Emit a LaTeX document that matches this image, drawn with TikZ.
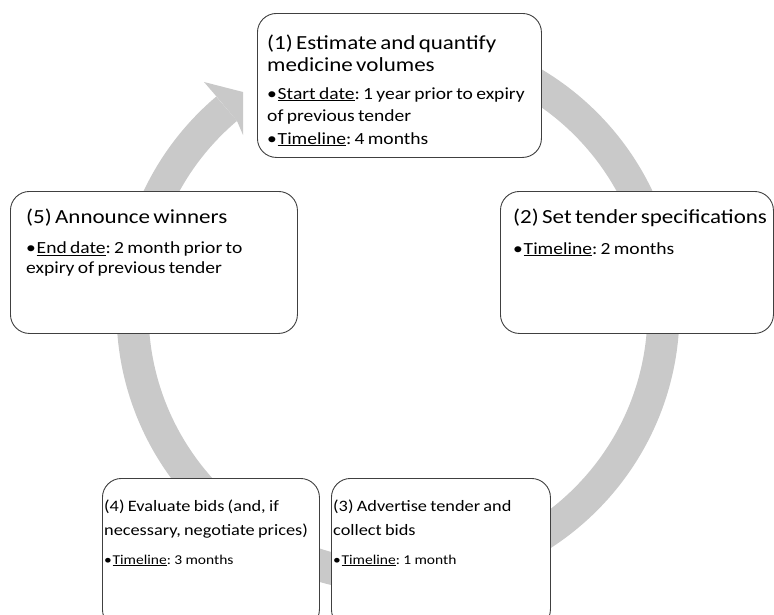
\documentclass[tikz,border=0pt]{standalone}
\usepackage{fontspec}
\setmainfont{Carlito}[FakeStretch=1.15]
\usetikzlibrary{calc,positioning}
\definecolor{ringgray}{RGB}{201,201,201}
\definecolor{boxline}{RGB}{64,64,64}
\tikzset{%
	stepbox/.style  = {draw=boxline, fill=white, line width=0.9pt, rounded corners=19pt, anchor=north west, inner sep=0pt},
	steptext/.style = {anchor=base west, align=left, inner sep=0pt, text width=#1, execute at begin node=\frenchspacing},
	ring/.style     = {draw=ringgray, line width=32pt},
}
\newcommand{\ttlbig}{\fontsize{20}{22}\selectfont}
\newcommand{\itmbig}{\fontsize{17}{22.5}\selectfont}
\newcommand{\ttlsmall}{\fontsize{15.9}{23.5}\selectfont}
\newcommand{\itmsmall}{\fontsize{13.5}{17}\selectfont}
\newcommand{\bul}{\makebox[0.62em][l]{\textbullet}}

\begin{document}
\begin{tikzpicture}[x=1pt,y=-1pt]
	\useasboundingbox (0,0) rectangle (774,614);
	
	% cycle ring behind the boxes
	\coordinate (c) at (398,311.5);
	\draw[ring] (398,46) arc[start angle=90, end angle=-229.8, radius=265.5pt];
	\fill[ringgray] (216.4,96.4) -- (204,82) -- (243,92) -- (243,135) -- (237,121) -- cycle;
	
	% boxes
	\node[stepbox, minimum width=284pt, minimum height=144pt] (est) at (257,13) {};
	\node[stepbox, minimum width=273pt, minimum height=142pt] (spec) at (500,191) {};
	\node[stepbox, minimum width=219pt, minimum height=150pt] (adv) at (331,478) {};
	\node[stepbox, minimum width=217pt, minimum height=150pt] (eval) at (102,478) {};
	\node[stepbox, minimum width=287pt, minimum height=142pt] (ann) at (10,191) {};
	
	% texts
	\node[steptext=275pt] (est-t) at (267,49) {%
		{\ttlbig (1) Estimate and quantify\\medicine volumes\par}\vspace{5.5pt}
		{\itmbig\hangindent=0.5em \bul\underline{Start date}: 1 year prior to expiry\\of previous tender\par}
		{\itmbig\bul\underline{Timeline}: 4 months\par}};
	\node[steptext=275pt] (spec-t) at (513,223) {%
		{\ttlbig (2) Set tender specifications\par}\vspace{8.5pt}
		{\itmbig\bul\underline{Timeline}: 2 months\par}};
	\node[steptext=215pt] (adv-t) at (333,511.5) {%
		{\ttlsmall (3) Advertise tender and\\collect bids\par}\vspace{12pt}
		{\itmsmall\bul\underline{Timeline}: 1 month\par}};
	\node[steptext=215pt] (eval-t) at (104,511.5) {%
		{\ttlsmall (4) Evaluate bids (and, if\\necessary, negotiate prices)\par}\vspace{12pt}
		{\itmsmall\bul\underline{Timeline}: 3 months\par}};
	\node[steptext=275pt] (ann-t) at (26,223) {%
		{\ttlbig (5) Announce winners\par}\vspace{11pt}
		{\fontsize{17}{19.5}\selectfont\hangindent=0.62em \bul\underline{End date}: 2 month prior to\\expiry of previous tender\par}};
\end{tikzpicture}
\end{document}
